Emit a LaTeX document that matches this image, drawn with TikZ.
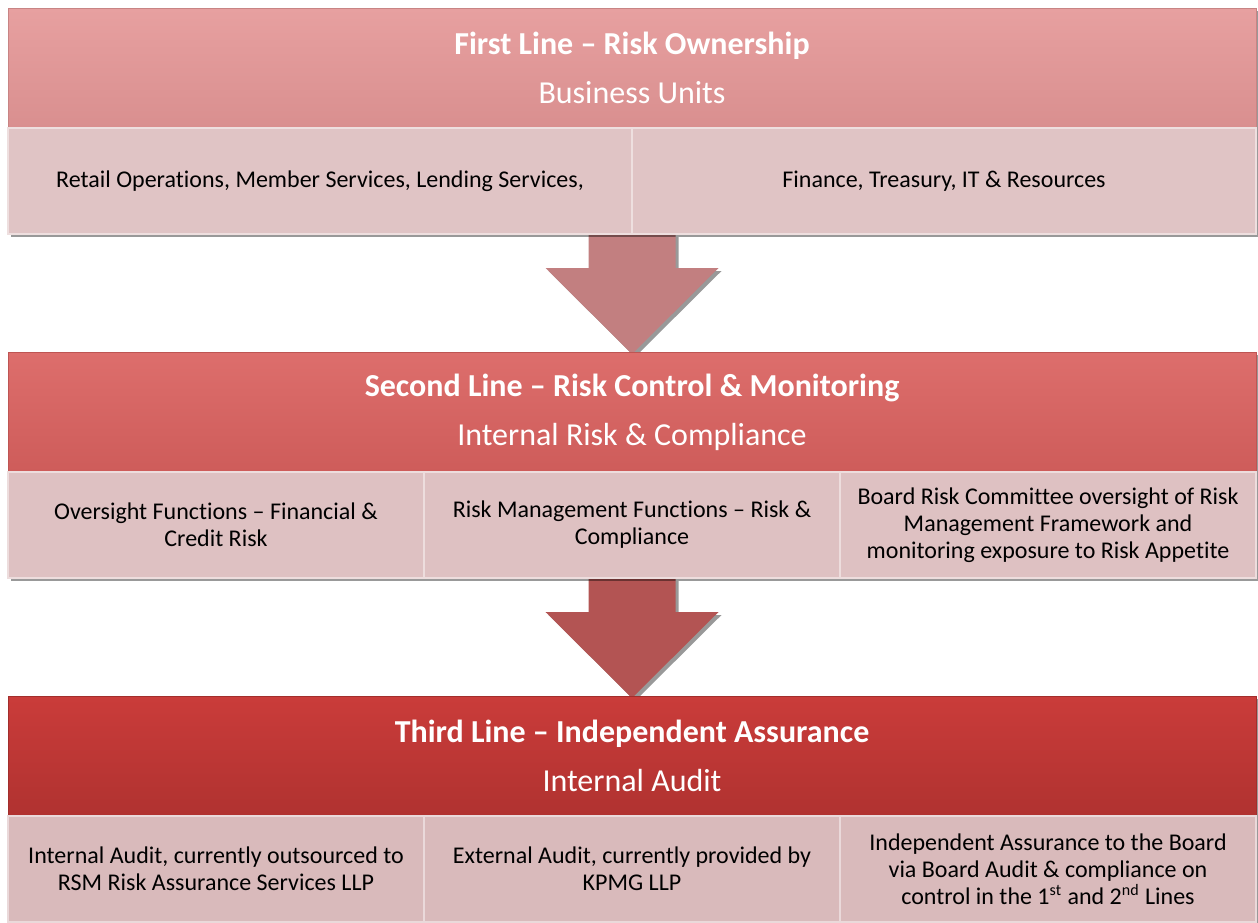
\documentclass[tikz,border=0pt]{standalone}
\usepackage{fontspec}
\setmainfont{Carlito}[Ligatures=NoCommon]
\usetikzlibrary{positioning,shadows,backgrounds}

\definecolor{headOneTop}{HTML}{E7A0A0}
\definecolor{headOneBot}{HTML}{D98F8F}
\definecolor{headTwoTop}{HTML}{DD6E6C}
\definecolor{headTwoBot}{HTML}{CE5C5A}
\definecolor{headThreeTop}{HTML}{CA3C3A}
\definecolor{headThreeBot}{HTML}{B03230}
\definecolor{cellOne}{HTML}{E0C4C5}
\definecolor{cellTwo}{HTML}{DEC1C2}
\definecolor{cellThree}{HTML}{D9BABB}
\definecolor{arrowOne}{HTML}{C27F80}
\definecolor{arrowTwo}{HTML}{B35453}

\tikzset{
  softshadow/.style={drop shadow={shadow xshift=1.5pt, shadow yshift=-1.5pt, opacity=0.4, fill=black}},
  header/.style={rectangle, minimum width=624pt, minimum height=60pt,
    inner sep=0pt, outer sep=0pt, align=center, text=white,
    font=\fontsize{16}{24.5}\selectfont, softshadow},
  cell/.style={rectangle, minimum height=53pt, inner sep=2pt, outer sep=0pt,
    align=center, font=\fontsize{12}{13.5}\selectfont,
    draw=white!45!#1, line width=0.6pt, fill=#1, softshadow},
  blockarrow/.style={fill=#1, softshadow}
}

\begin{document}
\begin{tikzpicture}[
            x = 0.5pt, % one pixel of the reference
            y = -0.5pt, % counted from the top
            node distance = 0pt
        ]
\useasboundingbox (0,0) rectangle (1258,922);

% first line
\node[header, anchor=north west, top color=headOneTop, bottom color=headOneBot, draw=headOneBot!92!black] (h1) at (8,8)
  {\textbf{First Line – Risk Ownership}\\Business Units};
\node[cell=cellOne, minimum width=312pt, below right=0pt and 0pt of h1.south west] (c11)
  {Retail Operations, Member Services, Lending Services,};
\node[cell=cellOne, minimum width=312pt, right=of c11] (c12)
  {Finance, Treasury, IT \& Resources};

% second line
\node[header, below right=59pt and 0pt of c11.south west, top color=headTwoTop, bottom color=headTwoBot, draw=headTwoBot!92!black] (h2)
  {\textbf{Second Line – Risk Control \& Monitoring}\\Internal Risk \& Compliance};
\node[cell=cellTwo, minimum width=208pt, below right=0pt and 0pt of h2.south west] (c21)
  {Oversight Functions – Financial \&\\Credit Risk};
\node[cell=cellTwo, minimum width=208pt, right=of c21] (c22)
  {Risk Management Functions – Risk \&\\Compliance};
\node[cell=cellTwo, minimum width=208pt, right=of c22] (c23)
  {Board Risk Committee oversight of Risk\\Management Framework and\\monitoring exposure to Risk Appetite};

% third line
\node[header, below right=59pt and 0pt of c21.south west, top color=headThreeTop, bottom color=headThreeBot, draw=headThreeBot!92!black] (h3)
  {\textbf{Third Line – Independent Assurance}\\Internal Audit};
\node[cell=cellThree, minimum width=208pt, below right=0pt and 0pt of h3.south west] (c31)
  {Internal Audit, currently outsourced to\\RSM Risk Assurance Services LLP};
\node[cell=cellThree, minimum width=208pt, right=of c31] (c32)
  {External Audit, currently provided by\\KPMG LLP};
\node[cell=cellThree, minimum width=208pt, right=of c32] (c33)
  {Independent Assurance to the Board\\via Board Audit \& compliance on\\control in the 1\textsuperscript{st} and 2\textsuperscript{nd} Lines};

% arrows between the lines
\coordinate (a1) at (h1.south |- c11.south);
\coordinate (a2) at (h2.south |- c21.south);
\begin{scope}[on background layer]
\fill[blockarrow=arrowOne] ([xshift=-21.75pt]a1) |- ([xshift=-43.25pt,yshift=42pt]h2.north)
  -- ([yshift=-1pt]h2.north) -- ([xshift=43.25pt,yshift=42pt]h2.north) -| ([xshift=21.75pt]a1) -- cycle;
\fill[blockarrow=arrowTwo] ([xshift=-21.75pt]a2) |- ([xshift=-43.25pt,yshift=42pt]h3.north)
  -- ([yshift=-1pt]h3.north) -- ([xshift=43.25pt,yshift=42pt]h3.north) -| ([xshift=21.75pt]a2) -- cycle;
\end{scope}
\end{tikzpicture}
\end{document}
